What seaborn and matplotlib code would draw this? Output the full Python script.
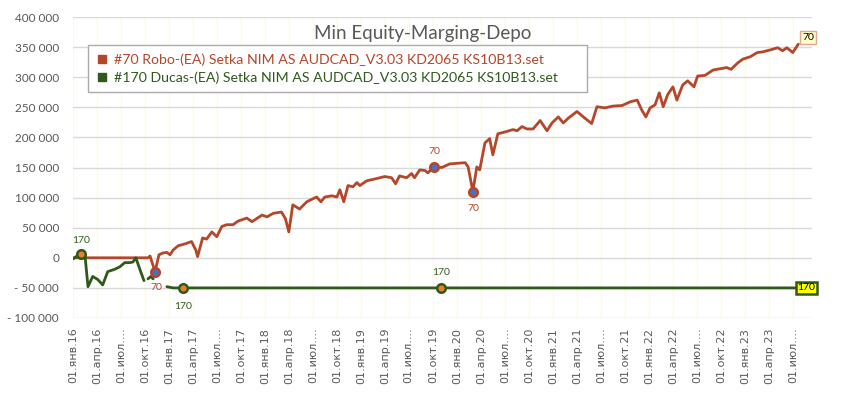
import numpy as np
import pandas as pd
import matplotlib
matplotlib.use('Agg')
import matplotlib.pyplot as plt
from matplotlib.ticker import FuncFormatter
from matplotlib.lines import Line2D
import seaborn as sns

# ---- данные ----
robo_dates = ['2016-01-01', '2016-10-12', '2016-10-20', '2016-11-08', '2016-11-23', '2016-12-08',
              '2016-12-23', '2017-01-04', '2017-01-16', '2017-02-04', '2017-03-01', '2017-03-27',
              '2017-04-12', '2017-04-19', '2017-05-08', '2017-05-23', '2017-06-12', '2017-07-01',
              '2017-07-20', '2017-08-08', '2017-09-01', '2017-09-20', '2017-10-23', '2017-11-12',
              '2017-12-20', '2018-01-08', '2018-02-01', '2018-03-04', '2018-03-19', '2018-04-01',
              '2018-04-16', '2018-05-12', '2018-06-08', '2018-07-01', '2018-07-16', '2018-08-01',
              '2018-08-16', '2018-09-12', '2018-10-01', '2018-10-12', '2018-10-27', '2018-11-12',
              '2018-12-01', '2018-12-16', '2018-12-27', '2019-01-23', '2019-02-23', '2019-04-01',
              '2019-04-27', '2019-05-12', '2019-05-27', '2019-06-23', '2019-07-12', '2019-07-23',
              '2019-08-12', '2019-09-01', '2019-09-12', '2019-10-04', '2019-11-04', '2019-12-04',
              '2020-02-01', '2020-02-12', '2020-03-01', '2020-03-16', '2020-03-27', '2020-04-16',
              '2020-05-04', '2020-05-16', '2020-06-04', '2020-07-01', '2020-08-01', '2020-08-16',
              '2020-09-04', '2020-09-23', '2020-10-16', '2020-11-12', '2020-12-08', '2020-12-27',
              '2021-01-20', '2021-02-08', '2021-02-27', '2021-04-01', '2021-05-01', '2021-05-27',
              '2021-06-16', '2021-07-16', '2021-08-16', '2021-09-20', '2021-10-20', '2021-11-16',
              '2021-12-04', '2021-12-19', '2022-01-04', '2022-01-23', '2022-02-08', '2022-02-23',
              '2022-03-12', '2022-04-01', '2022-04-16', '2022-05-08', '2022-05-27', '2022-06-20',
              '2022-07-04', '2022-08-01', '2022-09-01', '2022-09-27', '2022-10-23', '2022-11-08',
              '2022-12-04', '2022-12-23', '2023-01-20', '2023-02-16', '2023-03-08', '2023-04-12',
              '2023-05-04', '2023-05-23', '2023-06-08', '2023-07-01', '2023-07-22']
robo_values = [0, 0, 3000, -23000, 5000, 8000,
               9000, 5000, 13000, 20000, 23000, 27000,
               13000, 2000, 33000, 31000, 43000, 35000,
               52000, 55000, 55000, 61000, 66000, 60000,
               71000, 68000, 74000, 76000, 65000, 43000,
               88000, 81000, 93000, 98000, 101000, 93000,
               101000, 103000, 101000, 113000, 93000, 120000,
               118000, 125000, 120000, 128000, 131000, 135000,
               133000, 123000, 136000, 133000, 140000, 133000,
               146000, 145000, 141000, 151000, 150000, 156000,
               158000, 151000, 110000, 151000, 146000, 191000,
               198000, 171000, 206000, 209000, 213000, 211000,
               218000, 214000, 214000, 228000, 211000, 224000,
               234000, 224000, 232000, 243000, 232000, 223000,
               251000, 249000, 252000, 253000, 259000, 262000,
               245000, 234000, 249000, 254000, 274000, 251000,
               271000, 284000, 262000, 287000, 294000, 284000,
               302000, 303000, 312000, 314000, 316000, 313000,
               324000, 330000, 334000, 341000, 342000, 346000,
               349000, 344000, 349000, 341000, 355000]

ducas_dates = ['2016-01-01', '2016-01-16', '2016-02-01', '2016-02-16', '2016-02-27', '2016-03-16',
               '2016-04-04', '2016-04-23', '2016-05-12', '2016-06-08', '2016-06-27', '2016-07-16',
               '2016-08-04', '2016-08-16', '2016-08-27', '2016-09-12', '2016-09-27', '2016-10-05',
               '2016-10-12', '2016-10-23', '2016-11-01', '2016-11-15',
               '2016-12-23', '2017-01-16', '2017-02-23', '2019-11-01', '2023-07-22']
ducas_values = [-2000, 3000, 6000, 2000, -48000, -31000,
                -36000, -45000, -23000, -19000, -15000, -8000,
                -8000, -7000, 0, -20000, -38000, None,
                -35000, -31000, -35000, None,
                -48000, -50000, -50000, -50000, -50000]

# точки с подписями
robo_marks = ['2016-11-08', '2019-10-04', '2020-03-01']
ducas_marks = ['2016-02-01', '2017-02-23', '2019-11-01']

robo_name = '#70 Robo-(EA) Setka NIM AS AUDCAD_V3.03 KD2065 KS10B13.set'
ducas_name = '#170 Ducas-(EA) Setka NIM AS AUDCAD_V3.03 KD2065 KS10B13.set'
month_names = {1: 'янв', 4: 'апр', 7: 'июл', 10: 'окт'}

RED = '#B5462A'
GREEN = '#2F5A1C'
GRAY = '#595959'

robo = pd.DataFrame({'date': pd.to_datetime(robo_dates), 'value': robo_values})
ducas = pd.DataFrame({'date': pd.to_datetime(ducas_dates),
                      'value': pd.to_numeric(pd.Series(ducas_values, dtype=object))})
ducas['seg'] = ducas['value'].isna().cumsum()  # разрывы в ряду
ducas = ducas.dropna()

sns.set_style('white')
plt.rcParams['font.family'] = ['Lato', 'DejaVu Sans']

fig = plt.figure(figsize=(8.42, 3.93), dpi=100)
ax = fig.add_axes([73 / 842, 1 - 318 / 393, (812 - 73) / 842, (318 - 17) / 393])

# сетка
ticks = pd.date_range('2016-01-01', '2023-07-01', freq='QS')
for t in ticks:
    ax.axvline(t, color='#FFFFC0', lw=0.9, zorder=0)
for v in range(-100000, 400001, 50000):
    ax.axhline(v, color='#D9D9D9', lw=1, zorder=0)

sns.lineplot(data=robo, x='date', y='value', color=RED, lw=2, ax=ax, legend=False)
sns.lineplot(data=ducas, x='date', y='value', units='seg', estimator=None,
             color=GREEN, lw=2, ax=ax, legend=False)

# маркеры
rm = robo[robo['date'].isin(pd.to_datetime(robo_marks))]
ax.scatter(rm['date'], rm['value'], s=38, color='#4472C4', edgecolor=RED, lw=1.8, zorder=5)
dm = ducas[ducas['date'].isin(pd.to_datetime(ducas_marks))]
ax.scatter(dm['date'], dm['value'], s=38, color='#ED7D31', edgecolor=GREEN, lw=1.8, zorder=5)

for (d, v), off in zip(rm[['date', 'value']].values, [-16, 15, -17]):
    ax.annotate('70', (d, v), xytext=(1, off), textcoords='offset pixels',
                ha='center', va='center', fontsize=7.5, color=RED)
for (d, v), off in zip(dm[['date', 'value']].values, [14, -19, 15]):
    ax.annotate('170', (d, v), xytext=(0, off), textcoords='offset pixels',
                ha='center', va='center', fontsize=7.5, color=GREEN)

# подписи в конце рядов
last_r = robo.iloc[-1]
ax.annotate('70', (last_r['date'], last_r['value']), xytext=(10, 7), textcoords='offset pixels',
            ha='center', va='center', fontsize=7.5, color='black',
            bbox=dict(boxstyle='square,pad=0.2', fc='#FFFFC8', ec='#E3A796', lw=1))
last_d = ducas.iloc[-1]
ax.annotate('170', (last_d['date'], last_d['value']), xytext=(8, 0), textcoords='offset pixels',
            ha='center', va='center', fontsize=7.5, color='black',
            bbox=dict(boxstyle='square,pad=0.15', fc='#FFFF00', ec=GREEN, lw=1.8))

ax.set_xlim(pd.Timestamp('2016-01-01'), pd.Timestamp('2023-09-12'))
ax.set_ylim(-100000, 400000)
ax.set_yticks(range(-100000, 400001, 50000))


def fmt(v, pos):
    s = f'{abs(v):,.0f}'.replace(',', ' ')
    return '- ' + s if v < 0 else s


ax.yaxis.set_major_formatter(FuncFormatter(fmt))
ax.set_xticks(ticks)
labels = []
for t in ticks:
    if t.month == 7:
        labels.append('01.июл....')
    else:
        labels.append(f'01.{month_names[t.month]}.{t.year % 100:02d}')
ax.set_xticklabels(labels, rotation=90, family='DejaVu Sans', fontsize=8, color=GRAY)
ax.tick_params(axis='y', length=0, pad=10, labelsize=8.5, labelcolor=GRAY)
ax.tick_params(axis='x', length=0, pad=7)
ax.set_xlabel('')
ax.set_ylabel('')
for s in ax.spines.values():
    s.set_visible(False)

fig.text(423 / 842, 1 - 33 / 393, 'Min Equity-Marging-Depo', ha='center', va='center',
         fontsize=13.5, color=GRAY)

handles = [Line2D([], [], ls='none', marker='s', ms=6, color=RED),
           Line2D([], [], ls='none', marker='s', ms=6, color=GREEN)]
leg = ax.legend(handles, [robo_name, ducas_name], loc='upper left', mode='expand',
                bbox_to_anchor=((88 - 73) / 739, 0, (587 - 88) / 739, 1 - (45 - 17) / 301),
                borderaxespad=0, fontsize=10.2, frameon=True, fancybox=False,
                edgecolor='#ABABAB', framealpha=1, handlelength=0.8, handletextpad=0.4,
                borderpad=0.6, labelspacing=0.35)
leg.get_frame().set_linewidth(1)
for txt, c in zip(leg.get_texts(), [RED, GREEN]):
    txt.set_color(c)

fig.savefig('out.png', dpi=100)
